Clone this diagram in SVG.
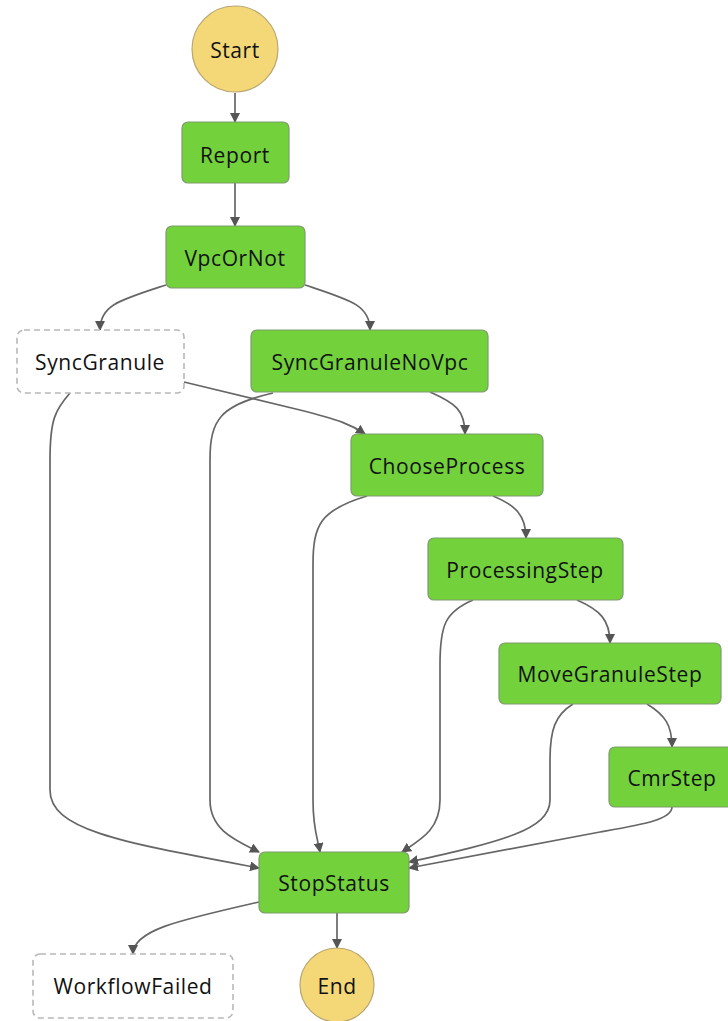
<svg xmlns="http://www.w3.org/2000/svg" width="728" height="1021" viewBox="0 0 728 1021">
<style>
.task rect{fill:#73d13c;stroke:#7e9c6c;stroke-width:1.2}
.pass rect{fill:#ffffff;stroke:#b8b8b8;stroke-width:1.6;stroke-dasharray:6 4}
.term circle{fill:#f4d878;stroke:#b8a670;stroke-width:1.2}
text{font-family:"Open Sans","DejaVu Sans",sans-serif;font-size:21px;letter-spacing:0.6px;fill:#111;text-anchor:middle;dominant-baseline:central}
.edges path{fill:none;stroke:#666;stroke-width:1.7}
</style>
<defs>
<marker id="arr" viewBox="0 0 10 10" refX="9" refY="5" markerWidth="10" markerHeight="10" markerUnits="userSpaceOnUse" orient="auto">
<path d="M0,0 L10,5 L0,10 z" fill="#555"/>
</marker>
</defs>
<g class="edges">
<path d="M235 93 L235 122" marker-end="url(#arr)"/>
<path d="M235 183 L235 226" marker-end="url(#arr)"/>
<path d="M166 285 C120 300 100 305 100 330" marker-end="url(#arr)"/>
<path d="M305 285 C350 300 370 305 370 330" marker-end="url(#arr)"/>
<path d="M184 382 L300 410 C340 420 352 425 365 434" marker-end="url(#arr)"/>
<path d="M430 392 C455 403 465 410 465 434" marker-end="url(#arr)"/>
<path d="M70 393 C55 410 50 420 50 460 L50 790 C50 830 120 842 259 868" marker-end="url(#arr)"/>
<path d="M273 393 C220 405 210 420 210 460 L210 800 C210 830 235 840 259 852" marker-end="url(#arr)"/>
<path d="M367 496 C320 510 313 525 313 565 L313 800 C313 830 318 840 320 852" marker-end="url(#arr)"/>
<path d="M493 496 C515 505 526 515 526 538" marker-end="url(#arr)"/>
<path d="M473 600 C445 612 440 625 440 665 L440 800 C440 830 420 840 402 852" marker-end="url(#arr)"/>
<path d="M577 600 C600 610 610 620 610 643" marker-end="url(#arr)"/>
<path d="M573 704 C555 715 550 730 550 760 L550 800 C550 830 500 842 409 862" marker-end="url(#arr)"/>
<path d="M647 704 C665 715 672 725 672 747" marker-end="url(#arr)"/>
<path d="M672 807 C672 820 640 825 600 832 L409 868" marker-end="url(#arr)"/>
<path d="M259 902 C180 920 133 930 133 954" marker-end="url(#arr)"/>
<path d="M337 913 L337 948" marker-end="url(#arr)"/>
</g>
<g id="Start" class="term"><circle cx="235" cy="49" r="43"/><text x="235" y="50">Start</text></g>
<g id="Report" class="task"><rect x="182" y="122" width="107" height="61" rx="6"/><text x="235" y="155">Report</text></g>
<g id="VpcOrNot" class="task"><rect x="166" y="226" width="139" height="62" rx="6"/><text x="235" y="258">VpcOrNot</text></g>
<g id="SyncGranule" class="pass"><rect x="17" y="330" width="167" height="63" rx="7"/><text x="100" y="362">SyncGranule</text></g>
<g id="SyncGranuleNoVpc" class="task"><rect x="251" y="330" width="237" height="62" rx="6"/><text x="370" y="362">SyncGranuleNoVpc</text></g>
<g id="ChooseProcess" class="task"><rect x="351" y="434" width="192" height="62" rx="6"/><text x="447" y="466">ChooseProcess</text></g>
<g id="ProcessingStep" class="task"><rect x="428" y="538" width="195" height="62" rx="6"/><text x="525" y="570">ProcessingStep</text></g>
<g id="MoveGranuleStep" class="task"><rect x="499" y="643" width="222" height="61" rx="6"/><text x="610" y="674">MoveGranuleStep</text></g>
<g id="CmrStep" class="task"><rect x="609" y="747" width="126" height="60" rx="6"/><text x="672" y="778">CmrStep</text></g>
<g id="StopStatus" class="task"><rect x="259" y="852" width="150" height="61" rx="6"/><text x="334" y="883">StopStatus</text></g>
<g id="WorkflowFailed" class="pass"><rect x="33" y="954" width="200" height="64" rx="7"/><text x="133" y="986">WorkflowFailed</text></g>
<g id="End" class="term"><circle cx="337" cy="985" r="37"/><text x="337" y="986">End</text></g>
</svg>
